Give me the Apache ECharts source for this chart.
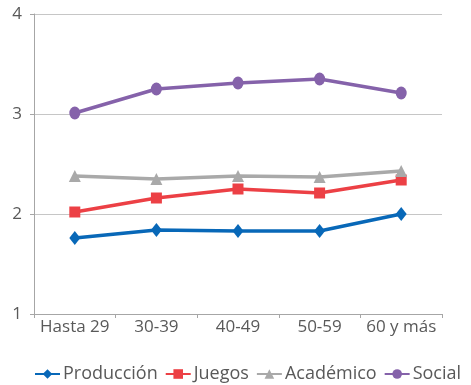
<!DOCTYPE html>
<html>
<head>
<meta charset="utf-8">
<script src="https://cdn.jsdelivr.net/npm/echarts@6/dist/echarts.min.js"></script>
<style>
  html, body { margin: 0; padding: 0; background: #fff; }
  #chart { width: 471px; height: 385px; }
</style>
</head>
<body>
<div id="chart"></div>
<script>
// Age groups along the x axis
const categories = ['Hasta 29', '30‑39', '40‑49', '50‑59', '60 y más'];

// Mean score per age group for each activity type
const produccion = [1.76, 1.84, 1.83, 1.83, 2.00];
const juegos     = [2.02, 2.16, 2.25, 2.21, 2.34];
const academico  = [2.38, 2.35, 2.38, 2.37, 2.43];
const social     = [3.01, 3.25, 3.31, 3.35, 3.21];

const seriesNames = ['Producción', 'Juegos', 'Académico', 'Social'];
const seriesData = [produccion, juegos, academico, social];
const colors = ['#0868b8', '#ec4045', '#a9a9a9', '#8562aa'];
const symbols = ['diamond', 'rect', 'triangle', 'circle'];
const symbolSizes = [[11, 14], 11, 12, [11, 13]];

const font = '"Open Sans", "Noto Sans", sans-serif';

const chart = echarts.init(document.getElementById('chart'), null, { renderer: 'canvas' });

chart.setOption({
  animation: false,
  color: colors,
  grid: { left: 34, right: 29, top: 14, bottom: 71 },
  legend: {
    top: 360,
    left: 29,
    width: 442,
    padding: 5,
    itemWidth: 25,
    itemHeight: 12,
    itemGap: 7,
    textStyle: { fontFamily: font, fontSize: 18, color: '#595959', padding: [0, 0, 0, -2] },
    data: seriesNames
  },
  xAxis: {
    type: 'category',
    data: categories,
    boundaryGap: true,
    axisLine: { lineStyle: { color: '#a6a6a6', width: 1 } },
    axisTick: { show: true, alignWithLabel: false, length: 4, lineStyle: { color: '#a6a6a6' } },
    axisLabel: { fontFamily: font, fontSize: 17, color: '#595959', margin: 5, interval: 0 }
  },
  yAxis: {
    type: 'value',
    min: 1,
    max: 4,
    interval: 1,
    axisLine: { show: true, lineStyle: { color: '#a6a6a6', width: 1 } },
    axisTick: { show: true, length: 4, lineStyle: { color: '#a6a6a6' } },
    axisLabel: { fontFamily: font, fontSize: 17, color: '#595959', margin: 12 },
    splitLine: { show: true, lineStyle: { color: '#c6c6c6', width: 1 } }
  },
  series: seriesNames.map((name, i) => ({
    name: name,
    type: 'line',
    data: seriesData[i],
    symbol: symbols[i],
    symbolSize: symbolSizes[i],
    showAllSymbol: true,
    lineStyle: { width: 3.5, color: colors[i] },
    itemStyle: { color: colors[i] },
    z: 2 + i
  }))
});
</script>
</body>
</html>
